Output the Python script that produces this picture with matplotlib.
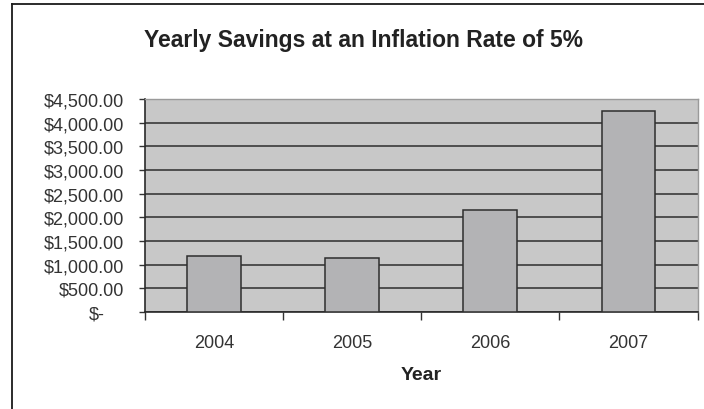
import matplotlib
matplotlib.use("Agg")
import matplotlib.pyplot as plt
from matplotlib.lines import Line2D
import matplotlib.transforms as mtransforms
import numpy as np

years = ["2004", "2005", "2006", "2007"]
savings = [1180, 1150, 2150, 4250]
y_ticks = [0, 500, 1000, 1500, 2000, 2500, 3000, 3500, 4000, 4500]

plt.rcParams["font.family"] = ["Liberation Sans", "DejaVu Sans"]

W, H = 704, 410
fig = plt.figure(figsize=(W / 100, H / 100), dpi=100)
fig.patch.set_facecolor("white")

# chart-area frame (left and top edges)
fig.add_artist(Line2D([12 / W, 12 / W], [0, 1 - 4.5 / H], transform=fig.transFigure,
                      color="#1a1a1a", lw=1.3))
fig.add_artist(Line2D([12 / W, 1], [1 - 4.5 / H, 1 - 4.5 / H], transform=fig.transFigure,
                      color="#1a1a1a", lw=1.3))

left, right, top, bottom = 145, 697.5, 100, 313
ax = fig.add_axes([left / W, 1 - bottom / H, (right - left) / W, (bottom - top) / H])
ax.set_facecolor("#c8c8c8")

x = np.arange(1, len(years) + 1)
ax.bar(x, savings, width=0.39, color="#b3b3b5", edgecolor="#2e2e2e", linewidth=1.1, zorder=3)

ax.set_xlim(0.5, len(years) + 0.5)
ax.set_ylim(0, 4500)
ax.set_axisbelow(True)

ax.set_yticks(y_ticks)
labels = ["$-"] + ["${:,.2f}".format(v) for v in y_ticks[1:]]
ax.set_yticklabels(labels)
ax.yaxis.grid(True, color="#333333", linewidth=1.15)

ax.set_xticks(np.arange(0.5, len(years) + 1, 1.0))
ax.set_xticklabels([])
ax.set_xticks(x, minor=True)
ax.set_xticklabels(years, minor=True)
ax.tick_params(axis="x", which="minor", length=0, pad=16, labelsize=13, labelcolor="#333333")
ax.tick_params(axis="x", which="major", length=6, width=1.0, color="#333333", direction="out")
ax.tick_params(axis="y", length=4.5, width=1.0, color="#333333", direction="out",
               labelsize=13, labelcolor="#333333", pad=10.5)

# accounting-style zero label sits a bit to the right
zero_lbl = ax.get_yticklabels()[0]
zero_lbl.set_transform(zero_lbl.get_transform() +
                       mtransforms.ScaledTranslation(-19 / 100, 0, fig.dpi_scale_trans))

for side in ("left", "bottom"):
    ax.spines[side].set_color("#2a2a2a")
    ax.spines[side].set_linewidth(1.2)
for side in ("top", "right"):
    ax.spines[side].set_color("#9a9a9a")
    ax.spines[side].set_linewidth(1.0)

ax.set_xlabel("Year", fontsize=14, fontweight="bold", color="#222222", labelpad=11)
fig.text(364 / W, 1 - 47 / H, "Yearly Savings at an Inflation Rate of 5%",
         ha="center", va="baseline", fontsize=16.5, fontweight="bold", color="#222222")

fig.savefig("out.png", dpi=100)
